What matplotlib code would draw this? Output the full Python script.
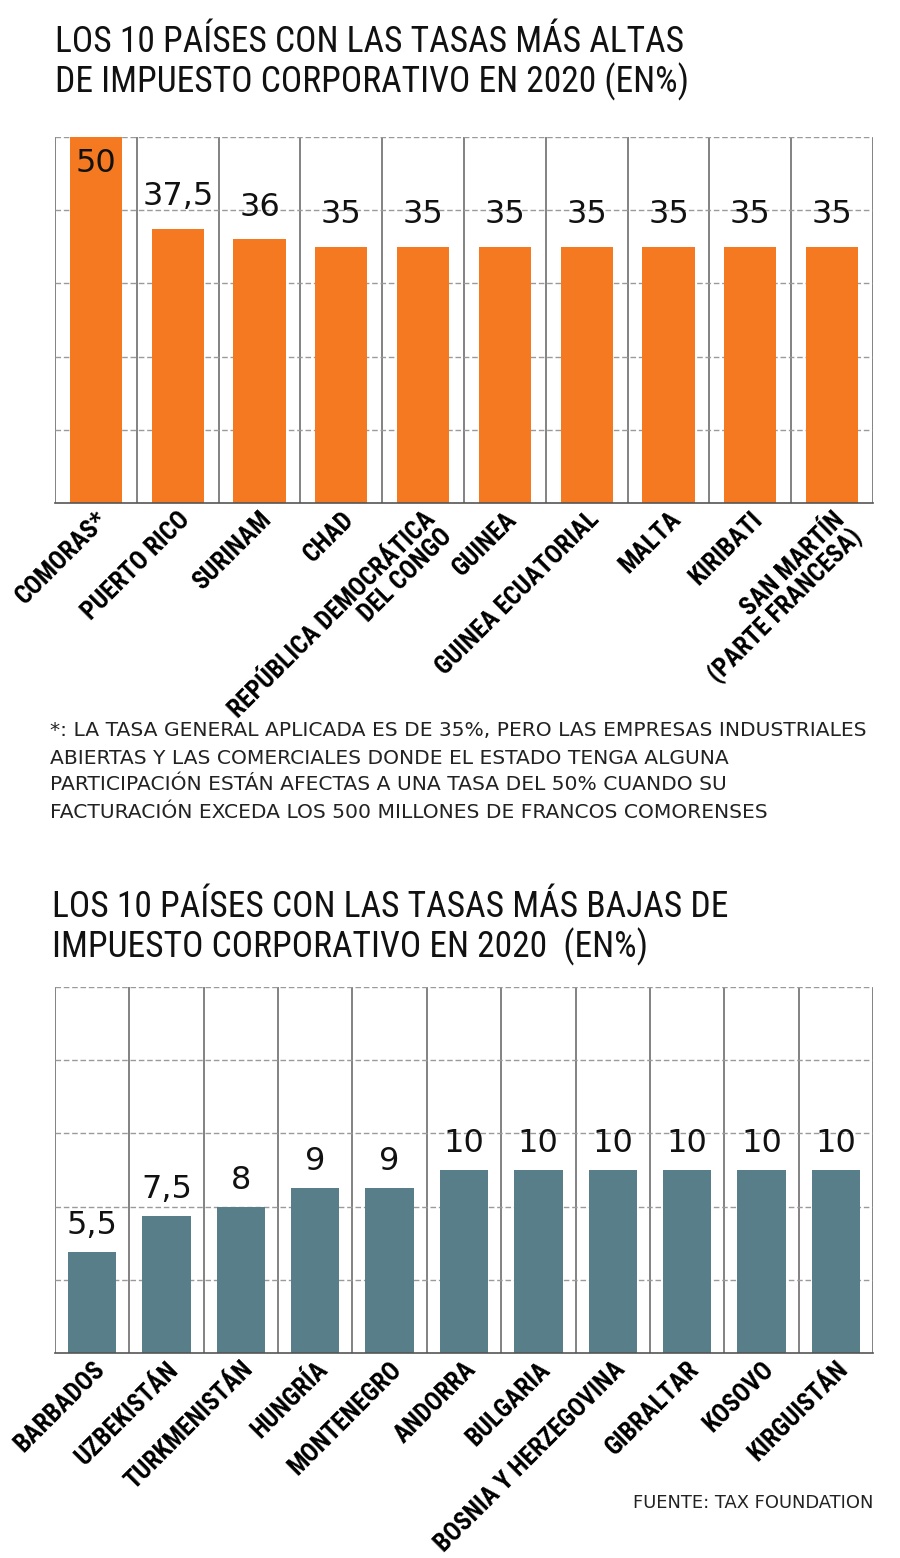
import matplotlib
matplotlib.use("Agg")
import matplotlib.pyplot as plt
from matplotlib import font_manager
import numpy as np

# ---------------- data ----------------
high_countries = ["COMORAS*", "PUERTO RICO", "SURINAM", "CHAD",
                  "REPÚBLICA DEMOCRÁTICA\nDEL CONGO", "GUINEA", "GUINEA ECUATORIAL",
                  "MALTA", "KIRIBATI", "SAN MARTÍN\n(PARTE FRANCESA)"]
high_rates = [50, 37.5, 36, 35, 35, 35, 35, 35, 35, 35]
high_labels = ["50", "37,5", "36", "35", "35", "35", "35", "35", "35", "35"]

low_countries = ["BARBADOS", "UZBEKISTÁN", "TURKMENISTÁN", "HUNGRÍA", "MONTENEGRO",
                 "ANDORRA", "BULGARIA", "BOSNIA Y HERZEGOVINA", "GIBRALTAR",
                 "KOSOVO", "KIRGUISTÁN"]
low_rates = [5.5, 7.5, 8, 9, 9, 10, 10, 10, 10, 10, 10]
low_labels = ["5,5", "7,5", "8", "9", "9", "10", "10", "10", "10", "10", "10"]

title_high = ["LOS 10 PAÍSES CON LAS TASAS MÁS ALTAS",
              "DE IMPUESTO CORPORATIVO EN 2020 (EN%)"]
title_low = ["LOS 10 PAÍSES CON LAS TASAS MÁS BAJAS DE",
             "IMPUESTO CORPORATIVO EN 2020  (EN%)"]
footnote = ["*: LA TASA GENERAL APLICADA ES DE 35%, PERO LAS EMPRESAS INDUSTRIALES",
            "ABIERTAS Y LAS COMERCIALES DONDE EL ESTADO TENGA ALGUNA",
            "PARTICIPACIÓN ESTÁN AFECTAS A UNA TASA DEL 50% CUANDO SU",
            "FACTURACIÓN EXCEDA LOS 500 MILLONES DE FRANCOS COMORENSES"]
source = "FUENTE: TAX FOUNDATION"

ORANGE = "#F47920"
TEAL = "#577E89"
W, H = 900, 1558

fig = plt.figure(figsize=(W / 100, H / 100), dpi=100)
fig.patch.set_facecolor("white")
renderer = fig.canvas.get_renderer()

names = {f.name for f in font_manager.fontManager.ttflist}
cond = [n for n in ["Liberation Sans Narrow", "DejaVu Sans Condensed", "Roboto Condensed"] if n in names]
title_fam = cond + ["Roboto", "DejaVu Sans"]
label_fam = cond + ["Roboto", "DejaVu Sans"]
valfont = ["DejaVu Sans"]
notefont = ["DejaVu Sans"]


def fit_size(text, target_px, family, weight="normal", base=20):
    t = fig.text(0, 0, text, fontsize=base, family=family, fontweight=weight)
    w = t.get_window_extent(renderer).width
    t.remove()
    return base * target_px / w


def px_axes(l, t, r, b):
    return fig.add_axes([l / W, 1 - b / H, (r - l) / W, (b - t) / H])


label_fs = fit_size("BOSNIA Y HERZEGOVINA", 258, label_fam, "bold")


def draw(ax, cats, vals, labels, color, ymax, step, width, offset_pt):
    n = len(cats)
    x = np.arange(n)
    ax.bar(x, vals, width=width, color=color, zorder=2)
    ax.set_xlim(-0.5, n - 0.5)
    ax.set_ylim(0, ymax)
    ax.set_yticks(np.arange(step, ymax + 0.01, step))
    ax.yaxis.grid(True, linestyle=(0, (4, 2)), color="#9a9a9a", linewidth=1, zorder=1)
    ax.tick_params(axis="y", length=0, labelleft=False)
    ax.tick_params(axis="x", length=0, pad=3)
    for s in ["top", "right", "left"]:
        ax.spines[s].set_visible(False)
    ax.spines["bottom"].set_color("#555555")
    ax.spines["bottom"].set_linewidth(1.2)
    for b in np.arange(-0.5, n, 1.0):
        ax.axvline(b, color="#6d6d6d", linewidth=1.2, zorder=1.5)
    ax.set_xticks(x)
    ax.set_xticklabels(cats, rotation=45, ha="right", rotation_mode="anchor",
                       multialignment="right", fontsize=label_fs, fontweight="bold",
                       family=label_fam, linespacing=1.0)
    for i, (v, lab) in enumerate(zip(vals, labels)):
        if v >= ymax:
            ax.annotate(lab, (i, v), xytext=(0, -8), textcoords="offset points",
                        ha="center", va="top", fontsize=23, family=valfont, color="#111111",
                        zorder=3)
        else:
            ax.annotate(lab, (i, v), xytext=(0, offset_pt), textcoords="offset points",
                        ha="center", va="baseline", fontsize=23, family=valfont,
                        color="#111111", zorder=3)


ax1 = px_axes(55, 137, 873, 503)
draw(ax1, high_countries, high_rates, high_labels, ORANGE, 50, 10, 0.64, 17)

ax2 = px_axes(55, 987, 873, 1353)
draw(ax2, low_countries, low_rates, low_labels, TEAL, 20, 4, 0.65, 13)

# titles
tfs = fit_size(title_high[0], 628, title_fam)
fig.text(55 / W, 1 - 52 / H, title_high[0], ha="left", va="baseline", fontsize=tfs,
         family=title_fam, color="#111111")
fig.text(55 / W, 1 - 92 / H, title_high[1], ha="left", va="baseline", fontsize=tfs,
         family=title_fam, color="#111111")
fig.text(52 / W, 1 - 917 / H, title_low[0], ha="left", va="baseline", fontsize=tfs,
         family=title_fam, color="#111111")
fig.text(52 / W, 1 - 957 / H, title_low[1], ha="left", va="baseline", fontsize=tfs,
         family=title_fam, color="#111111")

# footnote
nfs = fit_size(footnote[0], 815, notefont)
for k, line in enumerate(footnote):
    fig.text(50 / W, 1 - (731 + 27 * k) / H, line, ha="left", va="center",
             fontsize=nfs, family=notefont, color="#222222")

sfs = fit_size(source, 241, notefont)
fig.text(873 / W, 1 - 1503 / H, source, ha="right", va="center", fontsize=sfs,
         family=notefont, color="#222222")

fig.savefig("out.png", dpi=100, facecolor="white")
